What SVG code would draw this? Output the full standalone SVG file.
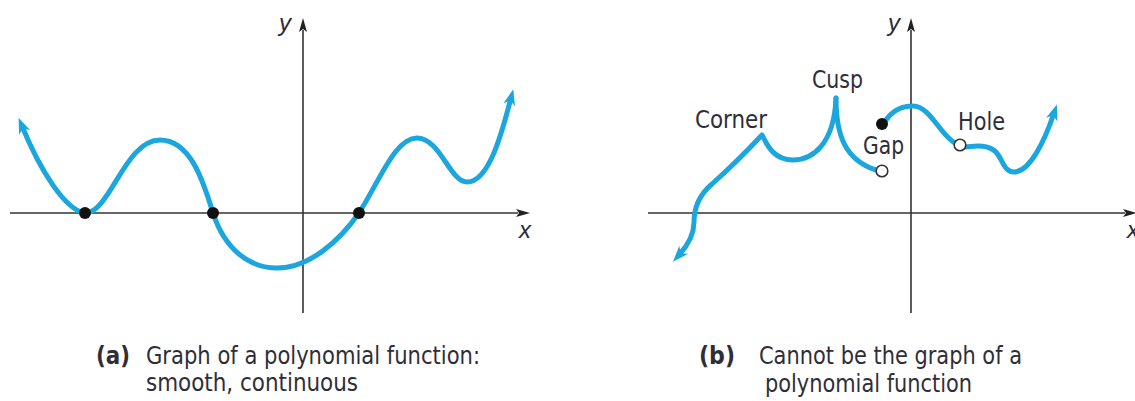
<svg xmlns="http://www.w3.org/2000/svg" width="1135" height="401" viewBox="0 0 1135 401">
<style>
.axis{stroke:#333;stroke-width:1.6;fill:none}
.curve{stroke:#1ba6de;stroke-width:5;fill:none;stroke-linecap:round;stroke-linejoin:round}
.dot{fill:#111}
.hole{fill:#fff;stroke:#333;stroke-width:1.6}
.lbl{font-family:"Liberation Sans Narrow","DejaVu Sans Condensed","Liberation Sans",sans-serif;font-size:25.5px;fill:#2e2e38}
.var{font-family:"Liberation Sans","Arial",sans-serif;font-style:italic;font-size:24px;fill:#2b2b3a}
.bold{font-weight:bold}
</style>
<defs>
<marker id="carr" markerUnits="userSpaceOnUse" viewBox="0 0 16 12" markerWidth="16" markerHeight="12" refX="7" refY="6" orient="auto-start-reverse" overflow="visible">
<path d="M16,6 L0,0 L4.5,6 L0,12 Z" fill="#1ba6de"/>
</marker>
<marker id="aarr" markerUnits="userSpaceOnUse" viewBox="0 0 14 8" markerWidth="14" markerHeight="8" refX="2" refY="4" orient="auto" overflow="visible">
<path d="M14,4 L0,0 L3,4 L0,8 Z" fill="#222"/>
</marker>
</defs>

<g id="panel-a">
<g id="axes-a">
<line class="axis" x1="10" y1="213" x2="518" y2="213" marker-end="url(#aarr)"/>
<line class="axis" x1="303" y1="313" x2="303" y2="30" marker-end="url(#aarr)"/>
<text class="var" x="279" y="31">y</text>
<text class="var" x="519" y="238">x</text>
</g>
<g id="curve-a">
<path class="curve" marker-start="url(#carr)" marker-end="url(#carr)" d="M22,126 C40,170 65,210 85,213 C110,213 125,140 160,140 C190,140 203,180 213,213 C225,250 250,268 277,268 C310,268 340,240 359,213 C380,180 395,138 417,138 C440,138 450,182 467,182 C490,182 503,128 511,98"/>
</g>
<g id="zeros-a">
<circle class="dot" cx="85" cy="213" r="6"/>
<circle class="dot" cx="213" cy="213" r="6"/>
<circle class="dot" cx="359" cy="213" r="6"/>
</g>
<g id="caption-a">
<text class="lbl bold" x="96" y="364" textLength="34" lengthAdjust="spacingAndGlyphs">(a)</text>
<text class="lbl" x="146" y="364" textLength="334" lengthAdjust="spacingAndGlyphs">Graph of a polynomial function:</text>
<text class="lbl" x="146" y="391" textLength="212" lengthAdjust="spacingAndGlyphs">smooth, continuous</text>
</g>
</g>

<g id="panel-b">
<g id="axes-b">
<line class="axis" x1="648" y1="213" x2="1125" y2="213" marker-end="url(#aarr)"/>
<line class="axis" x1="911" y1="313" x2="911" y2="30" marker-end="url(#aarr)"/>
<text class="var" x="888" y="31">y</text>
<text class="var" x="1127" y="238">x</text>
</g>
<g id="curve-b">
<path class="curve" marker-start="url(#carr)" d="M679,255 C689,244 694,234 694,222 C694,207 699,195 712,184 C730,168 746,152 762,135 C766,142 772,160 793,160 C812,160 834,145 836,98"/>
<path class="curve" d="M836,98 C836,135 845,160 876,170"/>
<path class="curve" d="M886,120 C893,110 902,106 913,106 C930,106 940,135 955,143"/>
<path class="curve" marker-end="url(#carr)" d="M966,147 C975,146 988,144 996,152 C1003,160 1004,172 1014,172 C1030,172 1045,140 1054,113"/>
</g>
<g id="points-b">
<circle class="dot" cx="882" cy="124" r="6"/>
<circle class="hole" cx="882" cy="171" r="5.8"/>
<circle class="hole" cx="960" cy="145" r="5.8"/>
</g>
<g id="labels-b">
<text class="lbl" x="695" y="128" textLength="72" lengthAdjust="spacingAndGlyphs">Corner</text>
<text class="lbl" x="812" y="88" textLength="51" lengthAdjust="spacingAndGlyphs">Cusp</text>
<text class="lbl" x="863" y="154" textLength="41" lengthAdjust="spacingAndGlyphs">Gap</text>
<text class="lbl" x="958" y="130" textLength="47" lengthAdjust="spacingAndGlyphs">Hole</text>
</g>
<g id="caption-b">
<text class="lbl bold" x="699" y="364" textLength="36" lengthAdjust="spacingAndGlyphs">(b)</text>
<text class="lbl" x="759" y="364" textLength="263" lengthAdjust="spacingAndGlyphs">Cannot be the graph of a</text>
<text class="lbl" x="765" y="392" textLength="207" lengthAdjust="spacingAndGlyphs">polynomial function</text>
</g>
</g>
</svg>
